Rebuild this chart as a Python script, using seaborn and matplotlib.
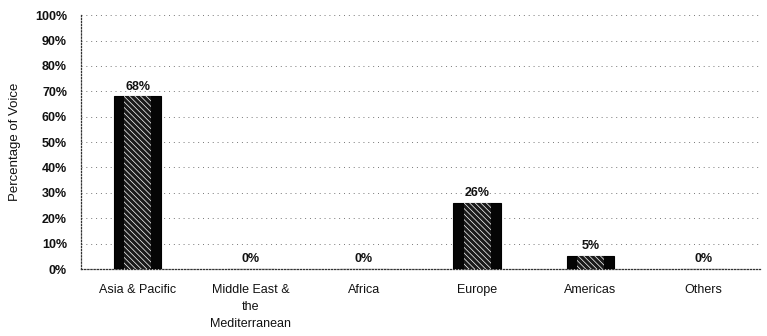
import matplotlib
matplotlib.use("Agg")
import matplotlib.pyplot as plt
import seaborn as sns
import pandas as pd
from matplotlib.ticker import PercentFormatter

categories = ["Asia & Pacific", "Middle East &\nthe\nMediterranean", "Africa", "Europe", "Americas", "Others"]
values = [68, 0, 0, 26, 5, 0]
labels = ["68%", "0%", "0%", "26%", "5%", "0%"]
yticks = [0, 10, 20, 30, 40, 50, 60, 70, 80, 90, 100]

df = pd.DataFrame({"cat": categories, "val": values})

sns.set_theme(style="white")
plt.rcParams['font.family'] = ['Liberation Sans', 'DejaVu Sans']
plt.rcParams['hatch.color'] = '#a8a8a8'
plt.rcParams['hatch.linewidth'] = 0.5

fig = plt.figure(figsize=(7.67, 3.36), dpi=100)
ax = fig.add_axes([0.1056, 0.1994, 0.8854, 0.7556])

sns.barplot(data=df, x="cat", y="val", color="#050505", width=0.42,
            edgecolor="#000000", linewidth=0.8, ax=ax, zorder=3)
sns.barplot(data=df, x="cat", y="val", color="#1a1a1a", width=0.24,
            linewidth=0, ax=ax, zorder=4, hatch="\\\\\\\\\\\\")

ax.set_ylim(0, 100)
ax.set_xlim(-0.5, 5.5)
ax.set_yticks(yticks)
ax.yaxis.set_major_formatter(PercentFormatter(decimals=0))
ax.grid(axis="y", linestyle=(0, (1, 4)), color="#777777", linewidth=0.7, zorder=0)

for s in ["top", "right"]:
    ax.spines[s].set_visible(False)
for s in ["left", "bottom"]:
    ax.spines[s].set_linestyle((0, (1, 1.5)))
    ax.spines[s].set_color("#333333")
    ax.spines[s].set_linewidth(0.9)

for i, (v, lab) in enumerate(zip(values, labels)):
    ax.text(i, v + 1.5, lab, ha="center", va="bottom", fontsize=9, fontweight="bold", color="#111111")

ax.set_xlabel("")
ax.set_ylabel("Percentage of Voice", fontsize=9.5, color="#111111", labelpad=10)
ax.tick_params(axis="y", labelsize=9, length=0, pad=10, labelcolor="#111111")
ax.tick_params(axis="x", labelsize=9, length=0, pad=11, labelcolor="#111111")
for t in ax.get_yticklabels():
    t.set_fontweight("bold")
for t in ax.get_xticklabels():
    t.set_verticalalignment("top")
    t.set_linespacing(1.55)

fig.savefig("out.png", dpi=100)
